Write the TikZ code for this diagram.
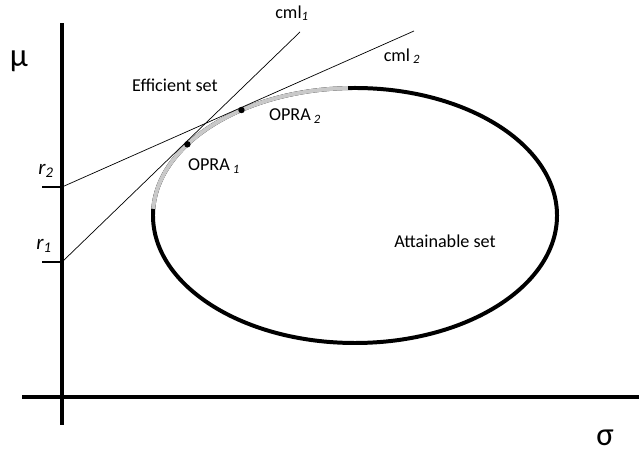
\documentclass[tikz,border=0pt]{standalone}
\usepackage{fontspec}
\setmainfont{Carlito}
\usetikzlibrary{positioning}
\colorlet{effgray}{gray!42}

\begin{document}
\begin{tikzpicture}[
      x=0.03cm, y=0.03cm,
      axis/.style     = {line width=3.6pt},
      rtick/.style    = {line width=2.4pt},
      cml/.style      = {line width=0.6pt},
      frontier/.style = {line width=3.4pt},
      lbl/.style      = {font=\fontsize{15.5}{18}\selectfont, inner sep=0pt},
      big/.style      = {font=\fontsize{28}{30}\selectfont, inner sep=0pt},
      rate/.style     = {font=\fontsize{18}{20}\selectfont\itshape, inner sep=0pt},
      dot/.style      = {circle, fill, inner sep=0pt, minimum size=5.5pt}
    ]
    \useasboundingbox (0,0) rectangle (639,454);

    % axes
    \coordinate (ytop) at (62,431);
    \coordinate (ybot) at (62,29);
    \coordinate (xl)   at (22,57);
    \coordinate (xr)   at (639,57);
    \draw[axis] (ybot) -- (ytop);
    \draw[axis] (xl) -- (xr);
    \node[big] (mu)    at (19,393) {μ};
    \node[big] (sigma) at (605,16) {σ};

    % risk free rates
    \coordinate (r1) at (62,192);
    \coordinate (r2) at (62,267);
    \draw[rtick] (r1) -- ++(-20,0);
    \draw[rtick] (r2) -- ++(-20,0);
    \node[rate] (r1l) at (44,208) {r\textsubscript{1}};
    \node[rate] (r2l) at (46,283) {r\textsubscript{2}};

    % attainable set
    \coordinate (C) at (355,238.5);
    \draw[frontier] (C) ellipse [x radius=6.06cm, y radius=3.825cm];
    \draw[frontier, effgray] (C) ++(177:6.06cm and 3.825cm)
          arc[start angle=177, end angle=92, x radius=6.06cm, y radius=3.825cm];

    % capital market lines
    \coordinate (c1end) at (300,422);
    \coordinate (c2end) at (414,423);
    \draw[cml] (r1) -- (c1end);
    \draw[cml] (r2) -- (c2end);
    \path (C) ++(146.07:6.06cm and 3.825cm) node[dot] (o1) {};
    \path (C) ++(124.19:6.06cm and 3.825cm) node[dot] (o2) {};

    \node[lbl] (cml1)  at (292,441) {cml\textsubscript{\itshape 1}};
    \node[lbl] (cml2)  at (402,398) {cml\,\textsubscript{\itshape 2}};
    \node[lbl] (op1)   at (214,288) {OPRA\,\textsubscript{\itshape 1}};
    \node[lbl] (op2)   at (295,338) {OPRA\,\textsubscript{\itshape 2}};
    \node[lbl] (eff)   at (175,369) {Efficient set};
    \node[lbl] (att)   at (445,213) {Attainable set};
  \end{tikzpicture}
\end{document}
